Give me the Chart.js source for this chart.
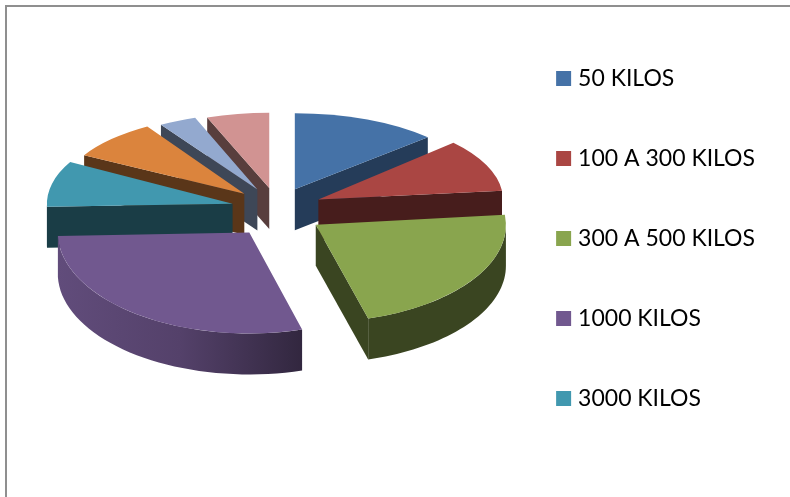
<!DOCTYPE html>
<html><head><meta charset="utf-8">
<style>
html,body{margin:0;padding:0;background:#fff;width:790px;height:497px;overflow:hidden}
#frame{position:absolute;left:5px;top:5px;right:-4px;bottom:-4px;border:2px solid #8f8f8f}
#wrap{position:absolute;left:0;top:0;width:790px;height:497px}
</style>
<script src="https://cdn.jsdelivr.net/npm/chart.js@4"></script>
</head><body>
<div id="frame"></div>
<div id="wrap"><canvas id="c" width="790" height="497"></canvas></div>
<script>
// Categories: only the first five names can be read in the reference legend.
const categories = ["50 KILOS","100 A 300 KILOS","300 A 500 KILOS","1000 KILOS","3000 KILOS","","",""];
const values = [47,37,80,104,31,29,12,20];
const colors = ["#4572A7","#AA4643","#89A54E","#71588F","#4198AF","#DB843D","#93A9CF","#D19392"];
const wallShadeLeft  = [.53,.42,.42,.86,.45,.4,.4,.4];
const wallShadeMid   = [.53,.42,.42,.74,.42,.4,.4,.4];
const wallShadeRight = [.53,.42,.42,.44,.4,.4,.4,.4];
const cutShade       = [.53,.42,.42,.42,.4,.41,.42,.42];

const centre = {x:277, y:206};
const explode = 46, depth = 41, sag = 7;
const squashBack = .40, squashFront = .555, widenBack = .97, widenFront = 1.03;

function shade(hex,f){
  const n=parseInt(hex.slice(1),16);
  return `rgb(${Math.round((n>>16&255)*f)},${Math.round((n>>8&255)*f)},${Math.round((n&255)*f)})`;
}
function view(el){
  const mid=(el.startAngle+el.endAngle)/2;
  const t=(Math.sin(mid)+1)/2;
  const sy=squashBack+(squashFront-squashBack)*t;
  const sx=widenBack+(widenFront-widenBack)*t;
  return {mid,sx,sy,
    x:centre.x+Math.cos(mid)*explode*sx,
    y:centre.y+sag*t+Math.sin(mid)*explode*sy};
}
const pie3d={
  id:'pie3d',
  beforeDatasetsDraw(chart){
    const ctx=chart.ctx, els=chart.getDatasetMeta(0).data;
    const order=els.map((e,i)=>i).sort((a,b)=>Math.sin((els[a].startAngle+els[a].endAngle)/2)-Math.sin((els[b].startAngle+els[b].endAngle)/2));
    order.forEach(i=>{
      const el=els[i], v=view(el), r=el.outerRadius, col=colors[i];
      const P=a=>[v.x+Math.cos(a)*r*v.sx, v.y+Math.sin(a)*r*v.sy];
      const quad=a=>{
        const p=P(a);
        ctx.beginPath();ctx.moveTo(v.x,v.y);ctx.lineTo(p[0],p[1]);ctx.lineTo(p[0],p[1]+depth);ctx.lineTo(v.x,v.y+depth);ctx.closePath();
        ctx.fillStyle=shade(col,cutShade[i]);ctx.fill();
      };
      const a1=el.startAngle,a2=el.endAngle;
      if(Math.cos(a1)<0) quad(a1);
      if(Math.cos(a2)>0) quad(a2);
      // outer rim: only the part that faces the viewer
      const lo=Math.max(a1,0), hi=Math.min(a2,Math.PI);
      if(hi>lo){
        const n=40, top=[];
        for(let k=0;k<=n;k++) top.push(P(lo+(hi-lo)*k/n));
        const xs=top.map(p=>p[0]);
        const g=ctx.createLinearGradient(Math.min(...xs),0,Math.max(...xs),0);
        g.addColorStop(0,shade(col,wallShadeLeft[i]));
        g.addColorStop(.5,shade(col,wallShadeMid[i]));
        g.addColorStop(1,shade(col,wallShadeRight[i]));
        ctx.beginPath();
        top.forEach((p,k)=>k?ctx.lineTo(p[0],p[1]):ctx.moveTo(p[0],p[1]));
        top.slice().reverse().forEach(p=>ctx.lineTo(p[0],p[1]+depth));
        ctx.closePath();ctx.fillStyle=g;ctx.fill();
      }
      // top face: the library's own arc element, placed in the tilted view
      ctx.save();
      ctx.translate(v.x,v.y);ctx.scale(v.sx,v.sy);ctx.translate(-el.x,-el.y);
      el.draw(ctx);
      ctx.restore();
    });
    return false;
  }
};
new Chart(document.getElementById('c'),{
  type:'pie',
  data:{labels:categories,datasets:[{data:values,backgroundColor:colors,borderWidth:0,radius:187}]},
  options:{
    responsive:false,animation:false,
    layout:{padding:{right:25,bottom:20,top:0,left:0}},
    plugins:{
      tooltip:{enabled:false},
      legend:{
        position:'right',
        labels:{
          filter:it=>it.text!=='',
          font:{family:'Lato',size:23},color:'#111',
          boxWidth:6,boxHeight:6,padding:57,
          generateLabels(chart){
            return chart.data.labels.map((t,i)=>({text:t,fillStyle:colors[i],strokeStyle:colors[i],lineWidth:9,index:i,hidden:false}));
          }
        }
      }
    }
  },
  plugins:[pie3d]
});
</script>
</body></html>
